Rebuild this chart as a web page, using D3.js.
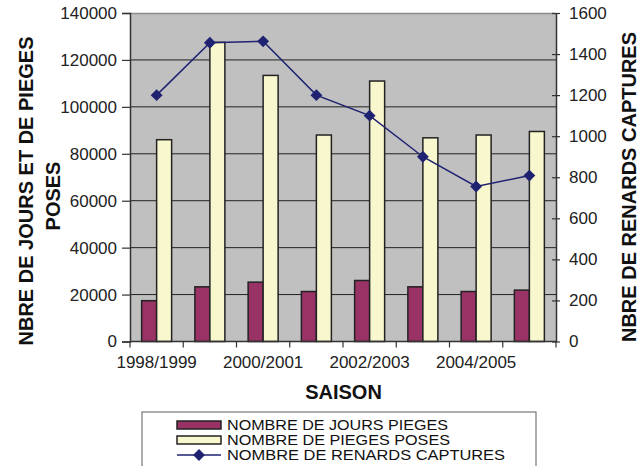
<!DOCTYPE html>
<html>
<head>
<meta charset="utf-8">
<script src="https://cdnjs.cloudflare.com/ajax/libs/d3/7.8.5/d3.min.js"></script>
<style>
  body { margin: 0; background: #fff; }
  svg { display: block; font-family: Arial, "Liberation Sans", sans-serif; }
</style>
</head>
<body>
<div id="chart"></div>
<script>
const saisons = ["1998/1999", "1999/2000", "2000/2001", "2001/2002",
                 "2002/2003", "2003/2004", "2004/2005", "2005/2006"];
const joursPieges = [17400, 23300, 25300, 21300, 26000, 23300, 21300, 21900];
const piegesPoses = [86000, 127500, 113400, 88000, 111000, 86800, 88000, 89500];
const renardsCaptures = [1200, 1455, 1462, 1200, 1100, 900, 755, 808];
const leftTicks = [0, 20000, 40000, 60000, 80000, 100000, 120000, 140000];
const rightTicks = [0, 200, 400, 600, 800, 1000, 1200, 1400, 1600];
const legendLabels = ["NOMBRE DE JOURS PIEGES", "NOMBRE DE PIEGES POSES", "NOMBRE DE RENARDS CAPTURES"];

const colPurple = "#993366";
const colCream = "#f9f7cd";
const colLine = "#1f2270";

const width = 642, height = 466;
const margin = { top: 13, right: 86, bottom: 124.5, left: 130 };
const innerW = width - margin.left - margin.right;
const innerH = height - margin.top - margin.bottom;

const svg = d3.select("#chart")
    .append("svg")
        .attr("width", width)
        .attr("height", height);

const g = svg.append("g").attr("transform", `translate(${margin.left},${margin.top})`);

const x = d3.scaleBand().domain(saisons).range([0, innerW]);
const yLeft = d3.scaleLinear().domain([0, 140000]).range([innerH, 0]);
const yRight = d3.scaleLinear().domain([0, 1600]).range([innerH, 0]);
const barW = 15;

// plot background
g.append("rect")
    .attr("width", innerW).attr("height", innerH)
    .attr("fill", "#c0c0c0");

// grid
g.selectAll(".grid")
    .data(leftTicks.filter(d => d > 0 && d < 140000))
    .enter().append("line")
        .attr("x1", 0).attr("x2", innerW)
        .attr("y1", d => yLeft(d)).attr("y2", d => yLeft(d))
        .attr("stroke", "#222").attr("stroke-width", 1);

g.append("line")
    .attr("x1", 0).attr("x2", innerW).attr("y1", 0.5).attr("y2", 0.5)
    .attr("stroke", "#8a8a8a").attr("stroke-width", 1.5);

// bars
g.selectAll(".bar-jours")
    .data(joursPieges)
    .enter().append("rect")
        .attr("x", (d, i) => x(saisons[i]) + x.bandwidth() / 2 - barW)
        .attr("y", d => yLeft(d))
        .attr("width", barW)
        .attr("height", d => innerH - yLeft(d))
        .attr("fill", colPurple)
        .attr("stroke", "#222").attr("stroke-width", 1.5);

g.selectAll(".bar-pieges")
    .data(piegesPoses)
    .enter().append("rect")
        .attr("x", (d, i) => x(saisons[i]) + x.bandwidth() / 2)
        .attr("y", d => yLeft(d))
        .attr("width", barW)
        .attr("height", d => innerH - yLeft(d))
        .attr("fill", colCream)
        .attr("stroke", "#222").attr("stroke-width", 1.5);

// line
const line = d3.line()
    .x((d, i) => x(saisons[i]) + x.bandwidth() / 2)
    .y(d => yRight(d));

g.append("path")
    .datum(renardsCaptures)
    .attr("d", line)
    .attr("fill", "none")
    .attr("stroke", colLine)
    .attr("stroke-width", 1.5);

const diamond = d3.symbol().type(d3.symbolDiamond2).size(90);
g.selectAll(".marker")
    .data(renardsCaptures)
    .enter().append("path")
        .attr("d", diamond)
        .attr("transform", (d, i) => `translate(${x(saisons[i]) + x.bandwidth() / 2},${yRight(d)})`)
        .attr("fill", colLine);

// axes
const axisLeft = d3.axisLeft(yLeft).tickValues(leftTicks).tickSize(8).tickPadding(5)
    .tickFormat(d3.format("d"));
const axisRight = d3.axisRight(yRight).tickValues(rightTicks).tickSize(0).tickPadding(13)
    .tickFormat(d3.format("d"));
const axisBottom = d3.axisBottom(x).tickSize(0).tickPadding(14)
    .tickFormat((d, i) => i % 2 === 0 ? d : "");

const gl = g.append("g").call(axisLeft);
const gr = g.append("g").attr("transform", `translate(${innerW},0)`).call(axisRight);
const gb = g.append("g").attr("transform", `translate(0,${innerH})`).call(axisBottom);

[gl, gr, gb].forEach(a => {
    a.select(".domain").attr("stroke", "#333").attr("stroke-width", 1.5);
    a.selectAll(".tick line").attr("stroke", "#333").attr("stroke-width", 1.2);
    a.selectAll("text").attr("font-size", 17).attr("fill", "#222")
        .attr("font-family", "Arial, 'Liberation Sans', sans-serif");
});
gb.select(".domain").attr("d", `M0,0H${innerW}`);

// right axis ticks crossing the axis
gr.selectAll(".tick").append("line")
    .attr("x1", -4).attr("x2", 4)
    .attr("stroke", "#333").attr("stroke-width", 1.2);

// category boundary ticks on x axis
g.selectAll(".xtick")
    .data(d3.range(saisons.length + 1))
    .enter().append("line")
        .attr("x1", i => i * x.step()).attr("x2", i => i * x.step())
        .attr("y1", innerH).attr("y2", innerH + 6)
        .attr("stroke", "#333").attr("stroke-width", 1.2);

// titles
svg.append("text")
    .attr("x", margin.left + innerW / 2 + 0.5).attr("y", 399)
    .attr("text-anchor", "middle")
    .attr("font-size", 20).attr("font-weight", "bold").attr("fill", "#111")
    .text("SAISON");

const leftTitle = svg.append("text")
    .attr("transform", "translate(33,191) rotate(-90)")
    .attr("text-anchor", "middle")
    .attr("font-size", 20).attr("font-weight", "bold").attr("fill", "#111");
leftTitle.append("tspan").attr("x", 0).attr("y", 0).text("NBRE DE JOURS ET DE PIEGES");
leftTitle.append("tspan").attr("x", -5).attr("y", 27).text("POSES");

svg.append("text")
    .attr("transform", "translate(636,187) rotate(-90)")
    .attr("text-anchor", "middle")
    .attr("font-size", 20).attr("font-weight", "bold").attr("fill", "#111")
    .text("NBRE DE RENARDS CAPTURES");

// legend
const legend = svg.append("g");
legend.append("rect")
    .attr("x", 142).attr("y", 412)
    .attr("width", 394).attr("height", 70)
    .attr("fill", "#fff").attr("stroke", "#777").attr("stroke-width", 1.2);

const legendWidths = [221, 223, 278];
const rowY = [425, 440, 455];

legend.append("rect")
    .attr("x", 177).attr("y", rowY[0] - 4).attr("width", 44).attr("height", 8)
    .attr("fill", colPurple).attr("stroke", "#222").attr("stroke-width", 1.5);
legend.append("rect")
    .attr("x", 177).attr("y", rowY[1] - 4).attr("width", 44).attr("height", 8)
    .attr("fill", colCream).attr("stroke", "#222").attr("stroke-width", 1.5);
legend.append("line")
    .attr("x1", 177).attr("x2", 221).attr("y1", rowY[2]).attr("y2", rowY[2])
    .attr("stroke", colLine).attr("stroke-width", 1.5);
legend.append("path")
    .attr("d", diamond)
    .attr("transform", `translate(199,${rowY[2]})`)
    .attr("fill", colLine);

legend.selectAll(".leg-text")
    .data(legendLabels)
    .enter().append("text")
        .attr("x", 227)
        .attr("y", (d, i) => rowY[i] + 5)
        .attr("font-size", 14)
        .attr("fill", "#111")
        .attr("textLength", (d, i) => legendWidths[i])
        .attr("lengthAdjust", "spacingAndGlyphs")
        .text(d => d);
</script>
</body>
</html>
